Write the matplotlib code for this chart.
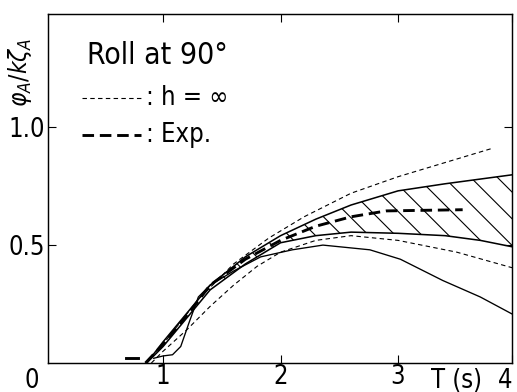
import matplotlib
matplotlib.use("Agg")
import matplotlib.pyplot as plt

plt.rcParams['font.family'] = ['DejaVu Sans']
plt.rcParams['font.stretch'] = 'condensed'
plt.rcParams['mathtext.fontset'] = 'dejavusans'
plt.rcParams['hatch.linewidth'] = 1.0

# upper / lower edges of the hatched band
band_x = [0.86, 1.0, 1.2, 1.4, 1.7, 2.0, 2.3, 2.6, 3.0, 3.4, 3.7, 4.0]
band_hi = [0.0, 0.09, 0.21, 0.33, 0.45, 0.54, 0.61, 0.67, 0.73, 0.76, 0.78, 0.80]
band_lo = [0.0, 0.07, 0.19, 0.31, 0.42, 0.51, 0.54, 0.555, 0.55, 0.54, 0.52, 0.49]

# lower solid curve
low_x = [0.92, 1.0, 1.08, 1.15, 1.22, 1.3, 1.4, 1.6, 1.83, 2.1, 2.36, 2.76, 3.02, 3.38, 3.7, 4.0]
low_y = [0.02, 0.03, 0.035, 0.07, 0.17, 0.28, 0.33, 0.39, 0.45, 0.48, 0.50, 0.48, 0.44, 0.35, 0.28, 0.20]

# h = infinity, two thin dashed curves
inf1_x = [0.85, 1.0, 1.3, 1.6, 1.9, 2.2, 2.6, 3.0, 3.4, 3.8]
inf1_y = [0.0, 0.08, 0.27, 0.42, 0.53, 0.62, 0.72, 0.79, 0.85, 0.91]
inf2_x = [0.9, 1.0, 1.2, 1.4, 1.6, 1.8, 2.0, 2.3, 2.6, 3.0, 3.5, 4.0]
inf2_y = [0.0, 0.05, 0.14, 0.24, 0.33, 0.41, 0.47, 0.52, 0.54, 0.52, 0.47, 0.40]

# experiment
exp_x = [0.85, 1.0, 1.2, 1.4, 1.7, 2.0, 2.3, 2.6, 2.9, 3.55]
exp_y = [0.0, 0.08, 0.2, 0.33, 0.44, 0.52, 0.58, 0.62, 0.645, 0.65]
exp0_x = [0.68, 0.79]
exp0_y = [0.02, 0.02]

xticks = [1, 2, 3]
yticks = [0.5, 1.0]

fig = plt.figure(figsize=(517 / 80, 392 / 80), dpi=80)
ax = fig.add_axes([48 / 517, 29 / 392, 464 / 517, 349 / 392])

ax.fill_between(band_x, band_lo, band_hi, facecolor='none', edgecolor='black',
                hatch='\\', linewidth=0)
ax.plot(band_x, band_hi, color='black', lw=1.4)
ax.plot(band_x, band_lo, color='black', lw=1.4)
ax.plot(low_x, low_y, color='black', lw=1.2)
ax.plot(inf1_x, inf1_y, color='black', lw=1.0, dashes=(4, 3))
ax.plot(inf2_x, inf2_y, color='black', lw=1.0, dashes=(4, 3))
ax.plot(exp_x, exp_y, color='black', lw=2.6, dashes=(4, 2))
ax.plot(exp0_x, exp0_y, color='black', lw=2.6)

ax.set_xlim(0.02, 3.97)
ax.set_ylim(0, 1.48)
ax.set_xticks(xticks + [3.97])
ax.set_xticklabels([str(t) for t in xticks] + [''])
ax.set_yticks(yticks)
ax.set_yticklabels(['0.5', '1.0'])
ax.tick_params(direction='in', length=7, width=1, labelsize=23,
               top=True, right=True, pad=1)
ax.tick_params(axis='y', pad=3)
for s in ax.spines.values():
    s.set_linewidth(1.3)

lab_y = -0.013
ax.text(-0.035, lab_y, '0', transform=ax.transAxes, fontsize=23,
        ha='center', va='top')
ax.text(3.5, lab_y, 'T (s)', transform=ax.get_xaxis_transform(), fontsize=23,
        ha='center', va='top')
ax.text(1.0, lab_y, '4', transform=ax.transAxes, fontsize=23,
        ha='right', va='top')
fig.text(20 / 517, 1 - 72 / 392, r'$\varphi_A/k\zeta_A$', rotation=90,
         fontsize=22, ha='center', va='center')

ax.text(0.084, 0.882, 'Roll at 90°', transform=ax.transAxes, fontsize=27,
        va='center')
ax.plot([0.073, 0.2], [0.759, 0.759], transform=ax.transAxes,
        color='black', lw=1.0, dashes=(4, 3))
ax.text(0.212, 0.759, ': h = ∞', transform=ax.transAxes, fontsize=23,
        va='center')
ax.plot([0.073, 0.2], [0.653, 0.653], transform=ax.transAxes,
        color='black', lw=2.6, dashes=(4, 2))
ax.text(0.212, 0.653, ': Exp.', transform=ax.transAxes, fontsize=23,
        va='center')

fig.savefig('out.png', dpi=80)
